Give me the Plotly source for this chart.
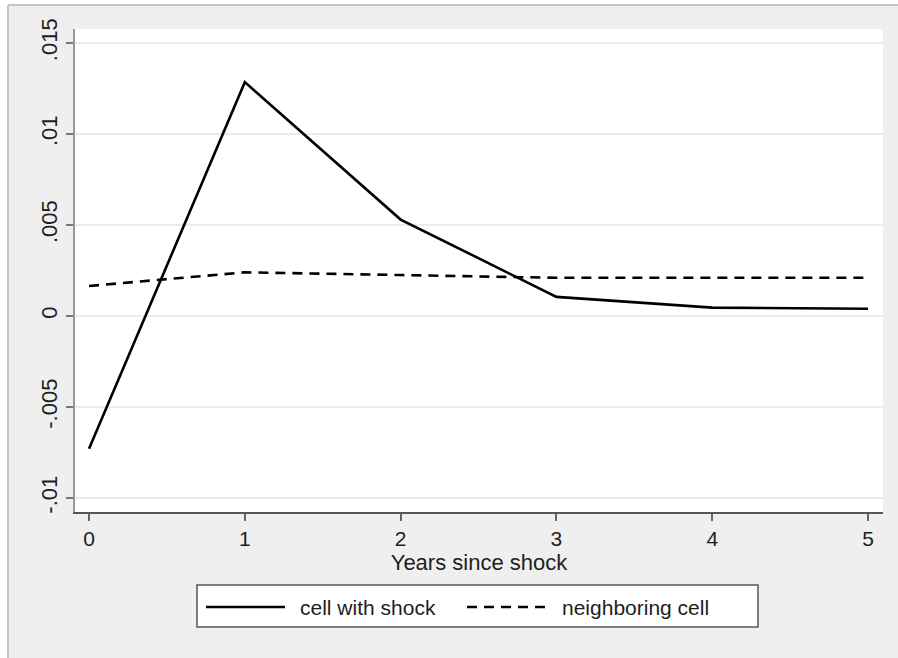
import plotly.graph_objects as go

# ---- data ----
years = [0, 1, 2, 3, 4, 5]
cell_with_shock = [-0.0073, 0.01285, 0.0053, 0.00105, 0.00046, 0.0004]
neighboring_cell = [0.00165, 0.0024, 0.00225, 0.0021, 0.0021, 0.0021]
series_names = ["cell with shock", "neighboring cell"]
y_tickvals = [-0.01, -0.005, 0, 0.005, 0.01, 0.015]
y_ticktext = ["-.01", "-.005", "0", ".005", ".01", ".015"]
x_tickvals = [0, 1, 2, 3, 4, 5]
x_title = "Years since shock"

# ---- layout ----
W, H = 898, 658
ML, MR, MT, MB = 75, 15, 29, 146
PW, PH = W - ML - MR, H - MT - MB
FONT = "Arial, Liberation Sans, sans-serif"
TXT = "#1e1e1e"
styles = [dict(color="black", width=2.6, dash="solid"),
          dict(color="black", width=2.6, dash="10px,7px")]

fig = go.Figure()
for name, ys, st in zip(series_names, [cell_with_shock, neighboring_cell], styles):
    fig.add_trace(go.Scatter(x=years, y=ys, mode="lines", name=name,
                             line=st, showlegend=False, hoverinfo="skip"))

def px_x(p):  # page pixel -> paper fraction
    return (p - ML) / PW

def px_y(p):
    return (H - MB - p) / PH

shapes = [
    # white strips outside the outer graph border
    dict(type="rect", xref="paper", yref="paper", x0=px_x(0), x1=px_x(8),
         y0=px_y(H), y1=px_y(0), fillcolor="white", line_width=0, layer="below"),
    dict(type="rect", xref="paper", yref="paper", x0=px_x(0), x1=px_x(W),
         y0=px_y(5), y1=px_y(0), fillcolor="white", line_width=0, layer="below"),
    # outer graph border (top and left)
    dict(type="line", xref="paper", yref="paper", x0=px_x(8), x1=px_x(W),
         y0=px_y(5), y1=px_y(5), line=dict(color="#c4c4c4", width=2)),
    dict(type="line", xref="paper", yref="paper", x0=px_x(8), x1=px_x(8),
         y0=px_y(H), y1=px_y(5), line=dict(color="#c4c4c4", width=2)),
    # legend box
    dict(type="rect", xref="paper", yref="paper", x0=px_x(197), x1=px_x(758),
         y0=px_y(627), y1=px_y(585), fillcolor="white",
         line=dict(color="#555555", width=1.5)),
]
annotations = []
legend_items = [(206, 285, 298), (467, 547, 560)]
for (lx0, lx1, tx), name, st in zip(legend_items, series_names, styles):
    shapes.append(dict(type="line", xref="paper", yref="paper",
                       x0=px_x(lx0), x1=px_x(lx1), y0=px_y(607), y1=px_y(607),
                       line=st))
    annotations.append(dict(text=name, xref="paper", yref="paper",
                            x=px_x(tx), y=px_y(607), xanchor="left", yanchor="middle",
                            showarrow=False, font=dict(family=FONT, size=21, color=TXT)))

fig.update_layout(
    width=W, height=H,
    margin=dict(l=ML, r=MR, t=MT, b=MB),
    paper_bgcolor="#efefef", plot_bgcolor="white",
    font=dict(family=FONT, size=22, color=TXT),
    shapes=shapes, annotations=annotations, showlegend=False,
)
fig.update_xaxes(
    range=[-0.09, 5.096], tickvals=x_tickvals, ticks="outside", ticklen=7,
    tickwidth=2, tickcolor="#666", showline=True, linecolor="#555", linewidth=2,
    showgrid=False, zeroline=False,
    title=dict(text=x_title, standoff=0, font=dict(size=22)),
    tickfont=dict(size=21),
)
fig.update_yaxes(
    range=[-0.01077, 0.01577], tickvals=y_tickvals, ticktext=y_ticktext,
    tickangle=-90, ticks="outside", ticklen=7, tickwidth=2, tickcolor="#777",
    showline=True, linecolor="#999", linewidth=2,
    showgrid=True, gridcolor="#ebebeb", gridwidth=2, zeroline=False,
    tickfont=dict(size=22),
)
fig.write_html(
    "out.html",
    config={"displayModeBar": False},
    post_script=(
        "document.documentElement.style.overflow='hidden';"
        "document.body.style.margin='0';"
        "document.body.style.overflow='hidden';"
    ),
)
